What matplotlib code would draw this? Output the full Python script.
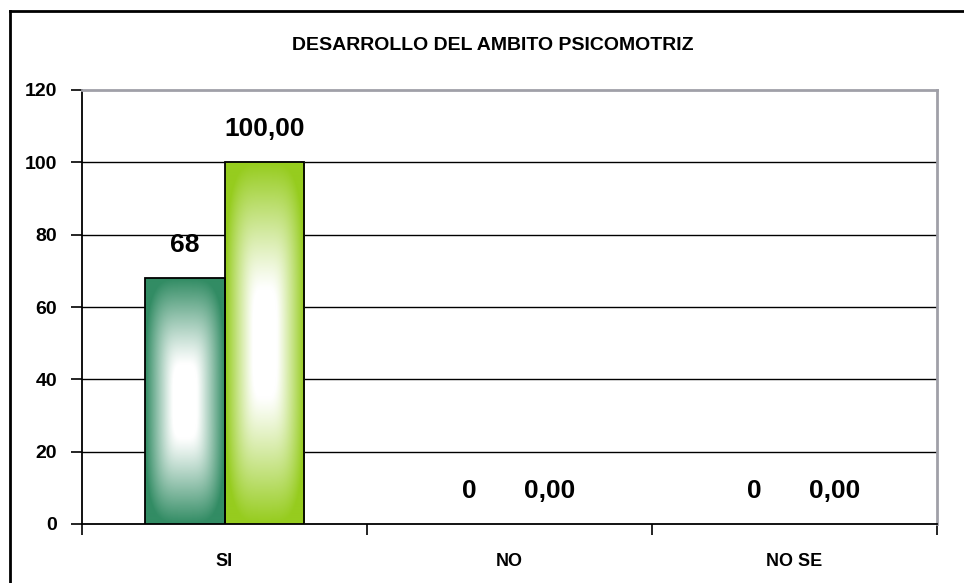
import numpy as np
import matplotlib.pyplot as plt
from matplotlib.colors import LinearSegmentedColormap
from matplotlib.patches import Rectangle
from matplotlib.lines import Line2D

# datos del grafico
categorias = ["SI", "NO", "NO SE"]
serie1 = [68, 0, 0]
serie2 = [100, 0, 0]
etiquetas1 = ["68", "0", "0"]
etiquetas2 = ["100,00", "0,00", "0,00"]
ticks_y = [0, 20, 40, 60, 80, 100, 120]

titulo = "DESARROLLO DEL AMBITO PSICOMOTRIZ"

color1 = "#328c64"
color2 = "#96cc1e"
ancho = 0.28

fuente = ["Liberation Sans Narrow", "Liberation Sans", "DejaVu Sans"]
fuente_num = ["Liberation Sans", "DejaVu Sans"]

fig = plt.figure(figsize=(9.64, 5.83), dpi=100)
ax = fig.add_axes([82 / 964, 1 - 524 / 583, (937 - 82) / 964, (524 - 90) / 583])

# degradado rectangular (esquinas suaves) desde el centro blanco hacia los bordes
u = np.linspace(-1, 1, 80)
v = np.linspace(-1, 1, 200)
U, V = np.meshgrid(u, v)
T = (np.abs(U) ** 4 + np.abs(V) ** 4) ** (1 / 4)
T = np.clip((T - 0.3) / 0.7, 0, 1) ** 1.1


def barra_degradada(x0, alto, color):
    if alto <= 0:
        return
    cmap = LinearSegmentedColormap.from_list("g", ["white", color])
    ax.imshow(T, cmap=cmap, vmin=0, vmax=1, extent=[x0, x0 + ancho, 0, alto],
              aspect="auto", origin="lower", zorder=3, interpolation="bilinear")
    ax.add_patch(Rectangle((x0, 0), ancho, alto, fill=False, edgecolor="black",
                           linewidth=1.3, zorder=4))


x = np.arange(len(categorias))
for i in range(len(categorias)):
    barra_degradada(x[i] - ancho, serie1[i], color1)
    barra_degradada(x[i], serie2[i], color2)
    ax.annotate(etiquetas1[i], (x[i] - ancho / 2, serie1[i]), xytext=(0, 24),
                textcoords="offset points", ha="center", va="center",
                fontsize=19, fontweight="bold", family=fuente_num, zorder=5)
    ax.annotate(etiquetas2[i], (x[i] + ancho / 2, serie2[i]), xytext=(0, 24),
                textcoords="offset points", ha="center", va="center",
                fontsize=19, fontweight="bold", family=fuente_num, zorder=5)

ax.set_xlim(-0.5, len(categorias) - 0.5)
ax.set_ylim(0, 120)
ax.set_yticks(ticks_y)
ax.set_yticklabels([str(t) for t in ticks_y], fontsize=14, fontweight="bold",
                   family=fuente_num)
ax.set_xticks(x)
ax.set_xticklabels(categorias, fontsize=13, fontweight="bold", family=fuente)
ax.tick_params(axis="x", which="major", length=0, pad=21)
ax.set_xticks(np.arange(-0.5, len(categorias), 1), minor=True)
ax.tick_params(axis="x", which="minor", length=8, width=1.2, color="black")
ax.tick_params(axis="y", length=8, width=1.2, pad=10)

for yv in ticks_y[1:-1]:
    ax.axhline(yv, color="black", linewidth=1, zorder=1)

ax.spines["left"].set_color("black")
ax.spines["left"].set_linewidth(1.3)
ax.spines["bottom"].set_color("black")
ax.spines["bottom"].set_linewidth(1.3)
ax.spines["top"].set_color("#a0a0a8")
ax.spines["top"].set_linewidth(2)
ax.spines["right"].set_color("#a0a0a8")
ax.spines["right"].set_linewidth(2)

fig.text(0.5 * (283 + 703) / 964, 1 - 45 / 583, titulo, ha="center", va="center",
         fontsize=14, fontweight="bold", family=fuente)

# marco exterior del grafico
fig.add_artist(Line2D([10 / 964, 10 / 964], [0, 1 - 11 / 583], color="black", linewidth=2))
fig.add_artist(Line2D([10 / 964, 1], [1 - 11 / 583, 1 - 11 / 583], color="black", linewidth=2))

fig.savefig("out.png", dpi=100)
